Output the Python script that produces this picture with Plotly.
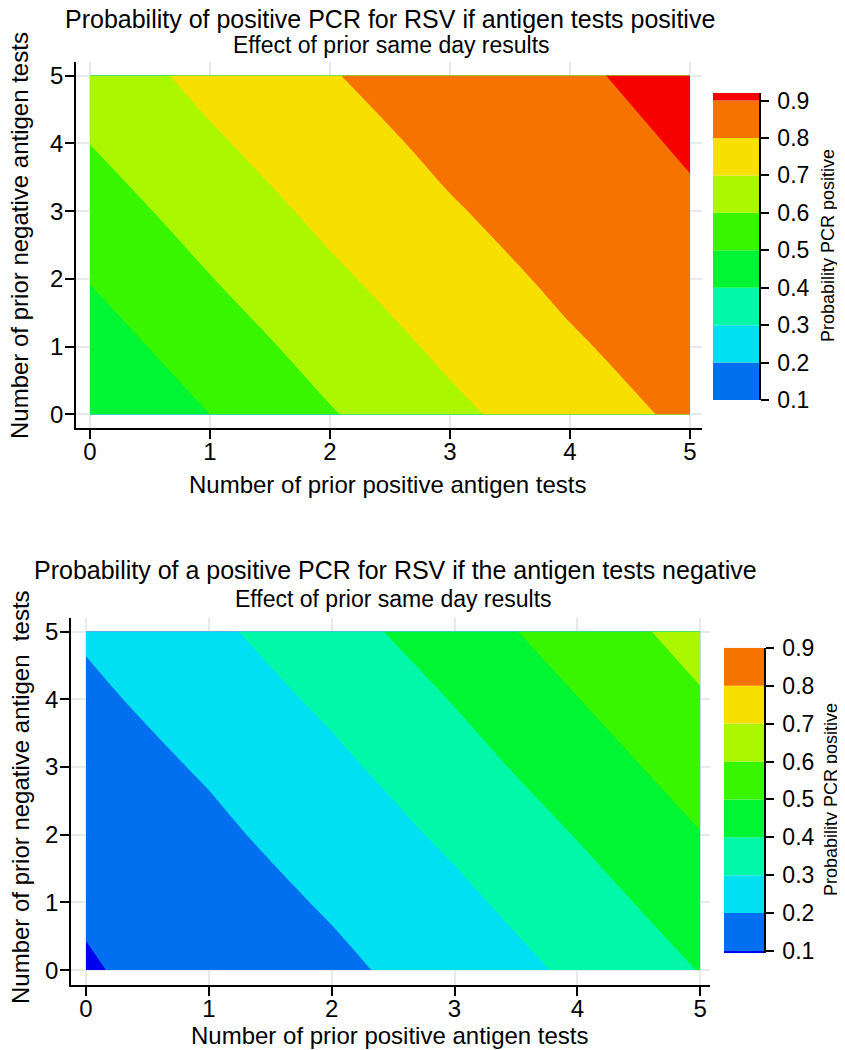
import plotly.graph_objects as go

# ---------------- data ----------------
x_pos = [0, 1, 2, 3, 4, 5]          # number of prior positive antigen tests
y_neg = [0, 1, 2, 3, 4, 5]          # number of prior negative antigen tests

# Probability PCR positive when antigen test positive (rows: y_neg, cols: x_pos)
z_pos = [
    [0.407, 0.500, 0.593, 0.679, 0.755, 0.818],
    [0.455, 0.549, 0.639, 0.720, 0.789, 0.845],
    [0.504, 0.597, 0.683, 0.758, 0.820, 0.869],
    [0.553, 0.643, 0.724, 0.792, 0.847, 0.890],
    [0.601, 0.687, 0.761, 0.823, 0.871, 0.908],
    [0.647, 0.727, 0.795, 0.849, 0.891, 0.921],
]

# Probability PCR positive when antigen test negative
z_neg = [
    [0.094, 0.131, 0.180, 0.242, 0.317, 0.403],
    [0.108, 0.154, 0.210, 0.278, 0.359, 0.449],
    [0.132, 0.181, 0.243, 0.318, 0.404, 0.497],
    [0.155, 0.210, 0.279, 0.361, 0.451, 0.544],
    [0.181, 0.244, 0.319, 0.405, 0.498, 0.591],
    [0.211, 0.280, 0.362, 0.452, 0.545, 0.636],
]

levels = [0.1, 0.2, 0.3, 0.4, 0.5, 0.6, 0.7, 0.8, 0.9]
level_labels = ["0.1", "0.2", "0.3", "0.4", "0.5", "0.6", "0.7", "0.8", "0.9"]
tick_vals = [0, 1, 2, 3, 4, 5]

title_top = "Probability of positive PCR for RSV if antigen tests positive"
title_bot = "Probability of a positive PCR for RSV if the antigen tests negative"
subtitle = "Effect of prior same day results"
xlab = "Number of prior positive antigen tests"
ylab_top = "Number of prior negative antigen tests"
ylab_bot = "Number of prior negative antigen\u00a0 tests"
cbar_title = "Probability PCR positive"

# ---------------- styles ----------------
band_colors = ["#0000F0", "#0070F0", "#00E0F2", "#00F8A8", "#00F532",
               "#38F500", "#AAF700", "#F7DF00", "#F77300", "#F70000"]
FONT = "Liberation Sans, Arial, Helvetica, sans-serif"
OFF = 8                       # page body margin
W, H = 845 - OFF, 1050 - OFF

colorscale = [[k / 9, c] for k, c in enumerate(band_colors)]


def contour(z, xa, ya):
    return go.Contour(
        x=x_pos, y=y_neg, z=z, xaxis=xa, yaxis=ya,
        autocontour=False,
        contours=dict(start=levels[0], end=levels[-1], size=0.1,
                      coloring="fill", showlines=False),
        line=dict(width=0), colorscale=colorscale, showscale=False,
        hoverinfo="skip",
    )


def colorbar_bars(edges, colors, xa, ya):
    return go.Bar(
        x=[0] * (len(edges) - 1),
        y=[edges[i + 1] - edges[i] for i in range(len(edges) - 1)],
        base=edges[:-1], width=1,
        marker=dict(color=colors, line=dict(width=0)),
        xaxis=xa, yaxis=ya, showlegend=False, hoverinfo="skip",
    )


zmax_top = max(max(r) for r in z_pos)
zmin_bot = min(min(r) for r in z_neg)
edges_top = levels + [zmax_top]
colors_top = band_colors[1:10]
edges_bot = [zmin_bot] + levels
colors_bot = band_colors[0:9]

fig = go.Figure()
fig.add_trace(contour(z_pos, "x", "y"))
fig.add_trace(contour(z_neg, "x2", "y2"))
fig.add_trace(colorbar_bars(edges_top, colors_top, "x3", "y3"))
fig.add_trace(colorbar_bars(edges_bot, colors_bot, "x4", "y4"))


def px_x(p):
    return (p - OFF) / W


def px_y(p):
    return 1 - (p - OFF) / H


main_axis = dict(
    showline=True, linecolor="black", linewidth=1.5, automargin=False,
    ticks="outside", ticklen=9, tickwidth=1.5, tickcolor="black",
    tickvals=tick_vals, showgrid=True, gridcolor="#e3ebed", gridwidth=1.5,
    zeroline=False, tickfont=dict(size=24, color="black", family=FONT),
)

cbar_axis = dict(
    side="right", showline=True, linecolor="black", linewidth=1.5, automargin=False,
    ticks="outside", ticklen=8, tickwidth=1.5, tickcolor="black",
    tickvals=levels, ticktext=level_labels, showgrid=False, zeroline=False,
    tickfont=dict(size=23, color="black", family=FONT),
    ticklabelstandoff=4,
)

XSO = -8   # x tick label standoff
YSO = -3   # y tick label standoff

fig.update_layout(
    width=W, height=H, margin=dict(l=0, r=0, t=0, b=0, pad=0, autoexpand=False),
    paper_bgcolor="white", plot_bgcolor="white",
    font=dict(family=FONT, color="black"),
    barmode="overlay", showlegend=False,
    xaxis=dict(main_axis, domain=[px_x(76), px_x(702)], range=[-0.117, 5.1], anchor="y",
               ticklabelstandoff=XSO),
    yaxis=dict(main_axis, domain=[px_y(428), px_y(62)], range=[-0.2, 5.2], anchor="x",
               ticklabelstandoff=YSO),
    xaxis2=dict(main_axis, domain=[px_x(71), px_x(710)], range=[-0.122, 5.08], anchor="y2",
                ticklabelstandoff=XSO),
    yaxis2=dict(main_axis, domain=[px_y(985), px_y(618)], range=[-0.22, 5.2], anchor="x2",
                ticklabelstandoff=YSO),
    xaxis3=dict(domain=[px_x(713), px_x(759)], range=[-0.5, 0.5], visible=False, anchor="y3"),
    yaxis3=dict(cbar_axis, domain=[px_y(400), px_y(92.7)], range=[0.1, zmax_top], anchor="x3"),
    xaxis4=dict(domain=[px_x(724), px_x(764)], range=[-0.5, 0.5], visible=False, anchor="y4"),
    yaxis4=dict(cbar_axis, domain=[px_y(953.3), px_y(647.8)], range=[zmin_bot, 0.9], anchor="x4"),
)


def ann(text, x, y, size, angle=0):
    fig.add_annotation(text=text, x=px_x(x), y=px_y(y), xref="paper", yref="paper",
                       xanchor="center", yanchor="middle", showarrow=False,
                       textangle=angle, borderpad=0,
                       font=dict(size=size, color="black", family=FONT))


ann(title_top, 390, 19, 25)
ann(subtitle, 391, 45, 23)
ann(xlab, 388, 484, 24)
ann(ylab_top, 20, 236, 24, -90)
ann(cbar_title, 828, 246, 18, -90)

ann(title_bot, 395, 570, 25)
ann(subtitle, 393, 599, 23)
ann(xlab, 390, 1035, 24)
ann(ylab_bot, 20, 797, 24, -90)
ann(cbar_title, 831, 800, 18, -90)

fig.write_html("out.html")
